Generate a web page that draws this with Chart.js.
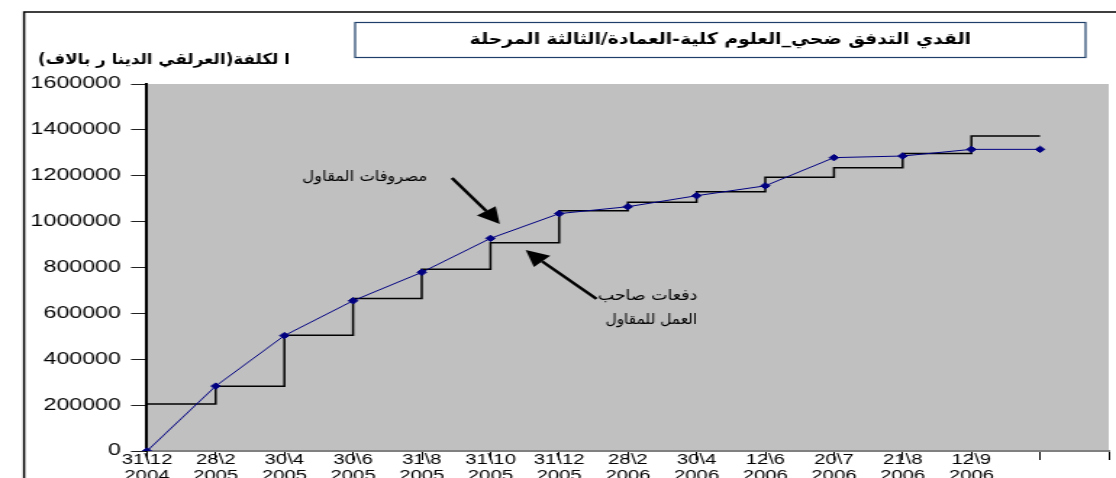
<!DOCTYPE html>
<html><head><meta charset="utf-8">
<script src="https://cdn.jsdelivr.net/npm/chart.js@4/dist/chart.umd.min.js"></script>
<style>
html,body{margin:0;padding:0;background:#fff;overflow:hidden;}
#wrap{width:770px;height:478px;transform:scaleX(1.44935);transform-origin:0 0;}
</style></head><body>
<div id="wrap"><canvas id="c" width="770" height="478"></canvas></div>
<script>
// ---- data ----
const categories = [
  ['31\\12','2004'],['28\\2','2005'],['30\\4','2005'],['30\\6','2005'],['31\\8','2005'],
  ['31\\10','2005'],['31\\12','2005'],['28\\2','2006'],['30\\4','2006'],['12\\6','2006'],
  ['20\\7','2006'],['21\\8','2006'],['12\\9','2006'],'',''
];
const contractorExpenses = [0, 283000, 503000, 655000, 779000, 927000, 1035000, 1065000, 1113000, 1156000, 1279000, 1286000, 1315000, 1315000];
const ownerPayments = [205000, 282000, 505000, 665000, 792000, 908000, 1047000, 1085000, 1130000, 1193000, 1235000, 1297000, 1373000, 1373000];
const yTicks = [0, 200000, 400000, 600000, 800000, 1000000, 1200000, 1400000, 1600000];
const titleText = 'القدي التدفق ضحي_العلوم كلية-العمادة/الثالثة المرحلة';
const yTitleText = 'ا لكلفة(العرلقي الدينا ر بالاف)';
const expensesLabel = 'مصروفات المقاول';
const paymentsLabel = ['دفعات صاحب', 'العمل للمقاول'];

const latin = "'Liberation Sans', Arial, sans-serif";
const arabic = "'DejaVu Sans', 'Liberation Sans', sans-serif";

function arrow(ctx, x1, y1, x2, y2) {
  const ang = Math.atan2(y2 - y1, x2 - x1);
  const L = 16, W = 8;
  const bx = x2 - L * Math.cos(ang), by = y2 - L * Math.sin(ang);
  ctx.save();
  ctx.strokeStyle = '#000'; ctx.fillStyle = '#000'; ctx.lineWidth = 2.4;
  ctx.beginPath(); ctx.moveTo(x1, y1); ctx.lineTo(bx, by); ctx.stroke();
  ctx.beginPath();
  ctx.moveTo(x2, y2);
  ctx.lineTo(bx + W * Math.sin(ang), by - W * Math.cos(ang));
  ctx.lineTo(bx - W * Math.sin(ang), by + W * Math.cos(ang));
  ctx.closePath(); ctx.fill();
  ctx.restore();
}

// draw text horizontally condensed by factor sx, anchored at x (align relative)
function condensedText(ctx, text, x, y, sx) {
  ctx.save();
  ctx.translate(x, y);
  ctx.scale(sx, 1);
  ctx.fillText(text, 0, 0);
  ctx.restore();
}

const decor = {
  id: 'decor',
  beforeDraw(chart) {
    const {ctx, chartArea: a} = chart;
    ctx.save();
    ctx.fillStyle = '#fff'; ctx.fillRect(0, 0, chart.width, chart.height);
    ctx.fillStyle = '#c0c0c0'; ctx.fillRect(a.left, a.top, a.right - a.left, a.bottom - a.top);
    // outer frame
    ctx.strokeStyle = '#000'; ctx.lineWidth = 1.5;
    ctx.beginPath(); ctx.moveTo(16.6, chart.height + 2); ctx.lineTo(16.6, 12); ctx.lineTo(chart.width + 2, 12); ctx.stroke();
    // title box
    ctx.strokeStyle = '#1f3f6a'; ctx.lineWidth = 1.2;
    ctx.strokeRect(245, 22.5, 504, 35);
    ctx.fillStyle = '#000';
    ctx.direction = 'rtl';
    ctx.font = "bold 16px " + arabic;
    ctx.textAlign = 'center'; ctx.textBaseline = 'middle';
    condensedText(ctx, titleText, 497, 40, 0.81);
    // y title
    ctx.font = "bold 15px " + arabic;
    ctx.textAlign = 'right';
    condensedText(ctx, yTitleText, 200, 60, 0.77);
    ctx.restore();
  },
  afterDatasetsDraw(chart) {
    const {ctx, scales: {x, y}} = chart;
    ctx.save();
    ctx.direction = 'rtl';
    ctx.fillStyle = '#000';
    ctx.font = "15px " + arabic;
    ctx.textAlign = 'right'; ctx.textBaseline = 'middle';
    condensedText(ctx, expensesLabel, x.getPixelForValue(4.08), y.getPixelForValue(1194000), 0.75);
    condensedText(ctx, paymentsLabel[0], x.getPixelForValue(8.01), y.getPixelForValue(676000), 0.8);
    condensedText(ctx, paymentsLabel[1], x.getPixelForValue(8.01), y.getPixelForValue(571000), 0.71);
    arrow(ctx, x.getPixelForValue(4.44), y.getPixelForValue(1190000), x.getPixelForValue(5.136), y.getPixelForValue(990000));
    arrow(ctx, x.getPixelForValue(6.543), y.getPixelForValue(663000), x.getPixelForValue(5.513), y.getPixelForValue(876000));
    ctx.restore();
  }
};

new Chart(document.getElementById('c'), {
  type: 'line',
  data: {
    labels: categories,
    datasets: [
      {
        label: expensesLabel,
        data: contractorExpenses,
        borderColor: '#000080', backgroundColor: '#000080',
        borderWidth: 1, pointStyle: 'rectRot', pointRadius: 3.2,
        pointBorderWidth: 1, tension: 0, fill: false
      },
      {
        label: paymentsLabel.join(' '),
        data: ownerPayments,
        borderColor: '#000', borderWidth: 1.5,
        stepped: true, pointRadius: 0, fill: false
      }
    ]
  },
  options: {
    responsive: false, animation: false, devicePixelRatio: 1,
    layout: {padding: {top: 84, right: 2.8, left: 0, bottom: 0}},
    plugins: {legend: {display: false}, tooltip: {enabled: false}, title: {display: false}},
    scales: {
      x: {
        offset: false,
        afterFit: s => { s.height = 27; },
        grid: {drawOnChartArea: false, tickLength: 9, color: '#000', tickWidth: 1},
        border: {color: '#808080', width: 2},
        ticks: {padding: -8, maxRotation: 0, autoSkip: false, color: '#000',
                font: {family: latin, size: 14, lineHeight: 1.15}}
      },
      y: {
        min: 0, max: 1600000,
        afterBuildTicks: s => { s.ticks = yTicks.map(v => ({value: v})); },
        afterFit: s => { s.width = 101.4; },
        grid: {drawOnChartArea: false, tickLength: 11, color: '#222', tickWidth: 1},
        border: {color: '#000', width: 2},
        ticks: {padding: 7, color: '#000', font: {family: latin, size: 16}, callback: v => String(v)}
      }
    }
  },
  plugins: [decor]
});
</script>
</body></html>
